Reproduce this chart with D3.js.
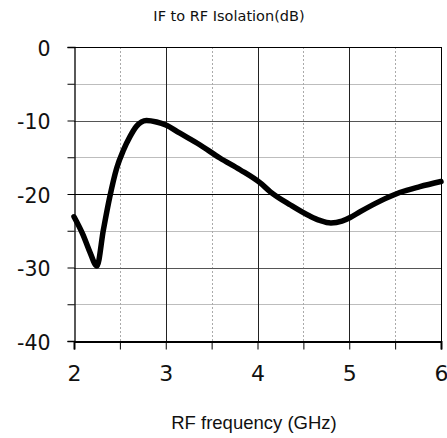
<!DOCTYPE html>
<html><head><meta charset="utf-8">
<script src="https://cdn.jsdelivr.net/npm/d3@7"></script>
<style>body{margin:0;background:#fff}svg{display:block}</style>
</head><body>
<script>
const freq = [2.0, 2.1, 2.17, 2.25, 2.32, 2.39, 2.465, 2.54, 2.61, 2.68, 2.79, 2.9, 3.0, 3.15, 3.37, 3.59, 3.81, 4.03, 4.14, 4.36, 4.57, 4.68, 4.8, 4.92, 5.01, 5.12, 5.33, 5.55, 5.77, 6.0];
const isolation = [-23.1, -25.6, -27.8, -29.8, -24.9, -20.4, -16.5, -14.0, -12.2, -10.8, -10.0, -10.2, -10.6, -11.7, -13.3, -15.1, -16.7, -18.5, -19.7, -21.5, -23.0, -23.6, -23.95, -23.7, -23.2, -22.4, -21.0, -19.8, -19.0, -18.3];
const xMajor = [2, 3, 4, 5, 6];
const xMinor = [2.5, 3.5, 4.5, 5.5];
const yMajor = [0, -10, -20, -30, -40];
const yMinor = [-5, -15, -25, -35];
const title = "IF to RF Isolation(dB)";
const xTitle = "RF frequency (GHz)";

const W = 447, H = 438;
const svg = d3.select("body").append("svg").attr("width", W).attr("height", H);
const x = d3.scaleLinear().domain([2, 6]).range([74, 441]);
const y = d3.scaleLinear().domain([0, -40]).range([47, 341]);
const font = "DejaVu Sans, Verdana, sans-serif";
const px = v => Math.round(v) + 0.5;

// minor horizontal grid
svg.append("g").selectAll("line").data(yMinor).join("line")
  .attr("x1", x(2)).attr("x2", x(6)).attr("y1", d => px(y(d))).attr("y2", d => px(y(d)))
  .attr("stroke", "#bdbdbd").attr("stroke-width", 1);
// minor vertical dotted
svg.append("g").selectAll("line").data(xMinor).join("line")
  .attr("x1", d => px(x(d))).attr("x2", d => px(x(d))).attr("y1", y(0)).attr("y2", y(-40))
  .attr("stroke", "#aaaaaa").attr("stroke-width", 1).attr("stroke-dasharray", "2,2");
// major horizontal
svg.append("g").selectAll("line").data(yMajor.filter(d => d !== 0 && d !== -40)).join("line")
  .attr("x1", x(2)).attr("x2", x(6)).attr("y1", d => px(y(d))).attr("y2", d => px(y(d)))
  .attr("stroke", d => d === -20 ? "#000" : "#555").attr("stroke-width", 1);
// major vertical
svg.append("g").selectAll("line").data(xMajor.filter(d => d !== 2 && d !== 6)).join("line")
  .attr("x1", d => px(x(d))).attr("x2", d => px(x(d))).attr("y1", y(0)).attr("y2", y(-40))
  .attr("stroke", "#222").attr("stroke-width", 1);

// border top/right
svg.append("line").attr("x1", x(2)).attr("x2", x(6)).attr("y1", px(y(0))).attr("y2", px(y(0))).attr("stroke", "#000");
svg.append("line").attr("x1", px(x(6))).attr("x2", px(x(6))).attr("y1", y(0)).attr("y2", y(-40)).attr("stroke", "#000");

// axes
const yAxis = d3.axisLeft(y).tickValues(yMajor.concat(yMinor)).tickSize(7).tickFormat(d => yMajor.includes(d) ? String(d) : "");
const gy = svg.append("g").attr("transform", `translate(${px(x(2))},0)`).call(yAxis);
gy.select(".domain").attr("stroke", "#000").attr("stroke-width", 1.3);
gy.selectAll(".tick line").attr("stroke", "#000");
gy.selectAll(".tick text").attr("font-family", font).attr("font-size", 20.5).attr("fill", "#111")
  .attr("x", -24).attr("y", 8).attr("dy", null);

const xAxis = d3.axisBottom(x).tickValues(xMajor.concat(xMinor)).tickSize(8).tickFormat(d => xMajor.includes(d) ? String(d) : "");
const gx = svg.append("g").attr("transform", `translate(0,${px(y(-40))})`).call(xAxis);
gx.select(".domain").attr("stroke", "#000").attr("stroke-width", 2);
gx.selectAll(".tick line").attr("stroke", "#000");
gx.selectAll(".tick text").attr("font-family", font).attr("font-size", 22).attr("fill", "#111")
  .attr("y", 39).attr("dy", null);

// curve
const data = freq.map((f, i) => [f, isolation[i]]);
svg.append("path").datum(data)
  .attr("fill", "none").attr("stroke", "#000").attr("stroke-width", 5.5).attr("stroke-linejoin", "round").attr("stroke-linecap", "round")
  .attr("d", d3.line().x(d => x(d[0])).y(d => y(d[1])).curve(d3.curveMonotoneX));

// titles
svg.append("text").attr("x", 229).attr("y", 21).attr("text-anchor", "middle")
  .attr("font-family", font).attr("font-size", 14.5).attr("fill", "#111").text(title);
svg.append("text").attr("x", 254).attr("y", 429).attr("text-anchor", "middle")
  .attr("font-family", "Liberation Sans, Arial, sans-serif").attr("font-size", 18.5).attr("fill", "#111").text(xTitle);
</script>
</body></html>
